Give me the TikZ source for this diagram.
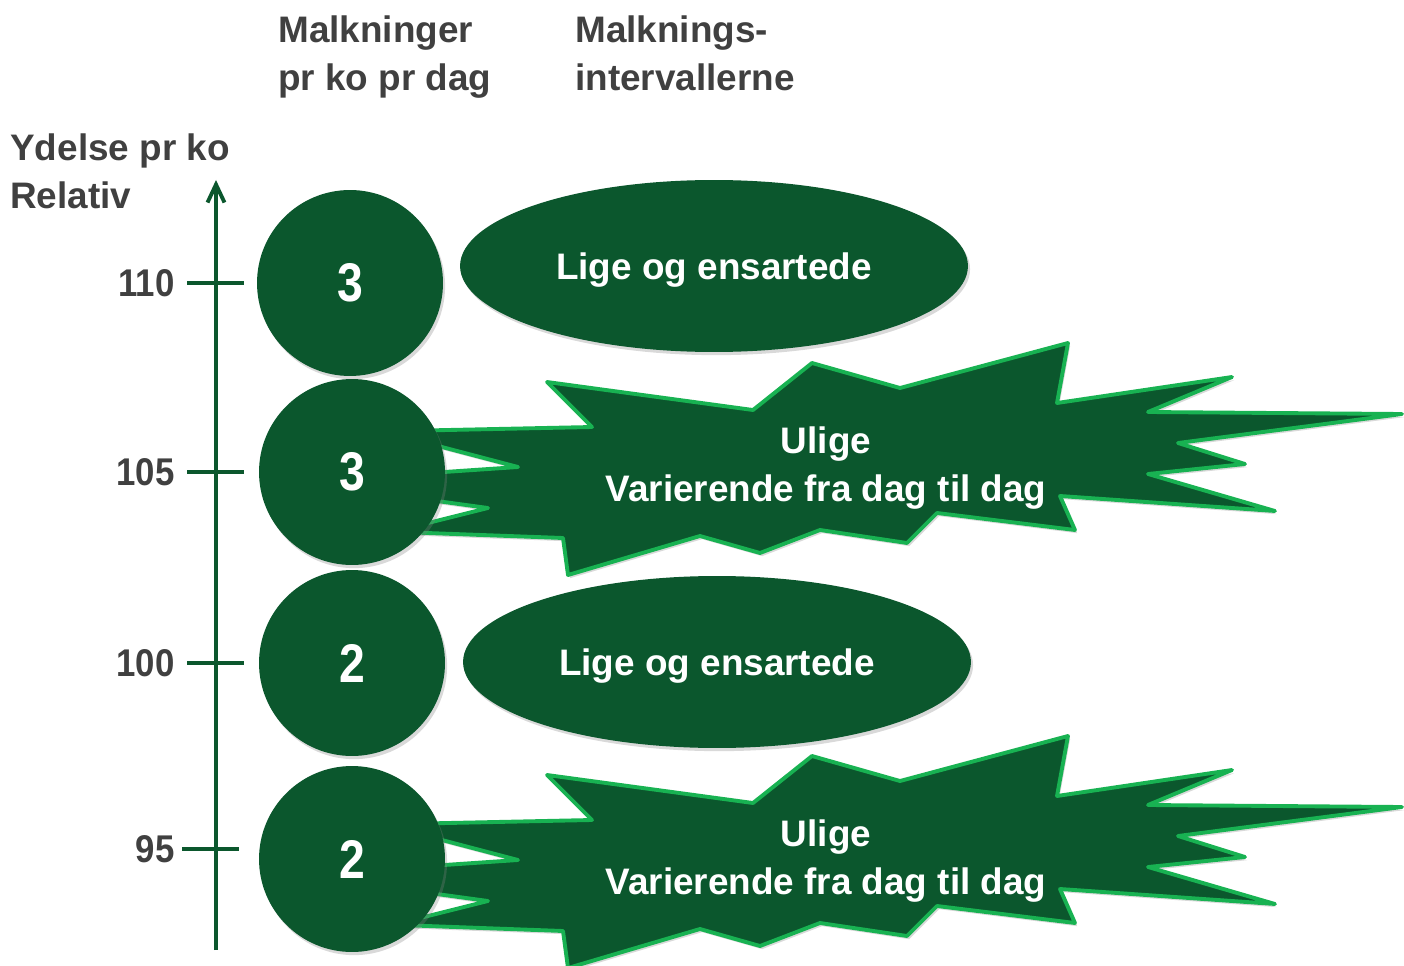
\documentclass[tikz,border=0pt]{standalone}
\usepackage{fontspec}
\setmainfont{Liberation Sans}
\usepackage{graphicx}
\usepackage{tikz}
\usetikzlibrary{arrows.meta,shapes.geometric,shadows,positioning}
\definecolor{melkgreen}{RGB}{11,87,45}
\definecolor{burstline}{RGB}{24,178,82}
\definecolor{labelgray}{RGB}{64,64,64}
\newcommand{\smal}[2]{\scalebox{#1}[1]{#2}}

\begin{document}
\begin{tikzpicture}[x=0.02cm, y=-0.02cm,
  skygge/.style={drop shadow={opacity=0.3, shadow xshift=1.2pt, shadow yshift=-1.8pt}},
  ko/.style={circle, fill=melkgreen, skygge, minimum size=3.72cm, inner sep=0pt, text=white, font=\fontsize{31}{34}\selectfont\bfseries},
  ligeblob/.style={ellipse, fill=melkgreen, skygge, minimum width=10.16cm, minimum height=3.44cm, inner sep=0pt, text depth=0pt, text=white, font=\fontsize{21}{27}\selectfont\bfseries},
  burst/.style={fill=melkgreen, draw=burstline, line width=2.2pt, line join=round, skygge},
  bursttext/.style={align=center, text=white, font=\fontsize{21}{27.5}\selectfont\bfseries},
  heading/.style={align=left, anchor=north west, inner sep=0pt, text=labelgray, font=\fontsize{21}{27.3}\selectfont\bfseries},
  tal/.style={anchor=east, inner sep=0pt, text=labelgray, font=\fontsize{22}{24}\selectfont\bfseries},
  akse/.style={draw=melkgreen, line width=2.2pt}]
  \useasboundingbox (0,0) rectangle (1404,966);

  \node[heading] (hmalk) at (278,15) {Malkninger\\pr ko pr dag};
  \node[heading] (hint) at (575,15) {Malknings-\\intervallerne};
  \node[heading] (hyd) at (10,133) {Ydelse pr ko\\Relativ};

  \coordinate (axbot) at (216,950);
  \coordinate (axtop) at (216,180);
  \draw[akse, -{Straight Barb[length=3.6mm, width=3.4mm]}] (axbot) -- (axtop);
  \foreach \v/\y/\a in {110/283/187, 105/472/187, 100/663/187, 95/849/182}{
    \draw[akse] (\a,\y) coordinate (t\v) -- ++(57,0);
    \node[tal] (l\v) at (175,\y) {\smal{0.9}{\v}};
  }

  \foreach \s in {0,393}{
    \draw[burst, shift={(0,\s)}] (547,382) -- (753,410) -- (812,363) -- (900,388)
      -- (1068,343) -- (1057,403) -- (1232,377) -- (1148,412) -- (1402,414)
      -- (1178,443) -- (1245,464) -- (1148,474) -- (1275,511) -- (1060,496)
      -- (1075,530) -- (937,513) -- (907,543) -- (820,530) -- (760,553)
      -- (700,536) -- (568,575) -- (563,538) -- (400,532) -- (400,530)
      -- (488,508) -- (400,496) -- (400,475) -- (518,467) -- (400,436)
      -- (400,431) -- (592,427) -- cycle;
  }

  \node[ko] (k110) at (350,283) {\smal{0.85}{3}};
  \node[ko] (k105) at (352,472) {\smal{0.85}{3}};
  \node[ko] (k100) at (352,663) {\smal{0.85}{2}};
  \node[ko] (k95) at (352,859) {\smal{0.85}{2}};

  \node[ligeblob] (e110) at (714,266) {Lige og ensartede};
  \node[ligeblob] (e100) at (717,662) {Lige og ensartede};

  \node[bursttext] (u105) at (826,468) {Ulige\\Varierende fra dag til dag};
  \node[bursttext] (u95) at (826,861) {Ulige\\Varierende fra dag til dag};
\end{tikzpicture}
\end{document}
